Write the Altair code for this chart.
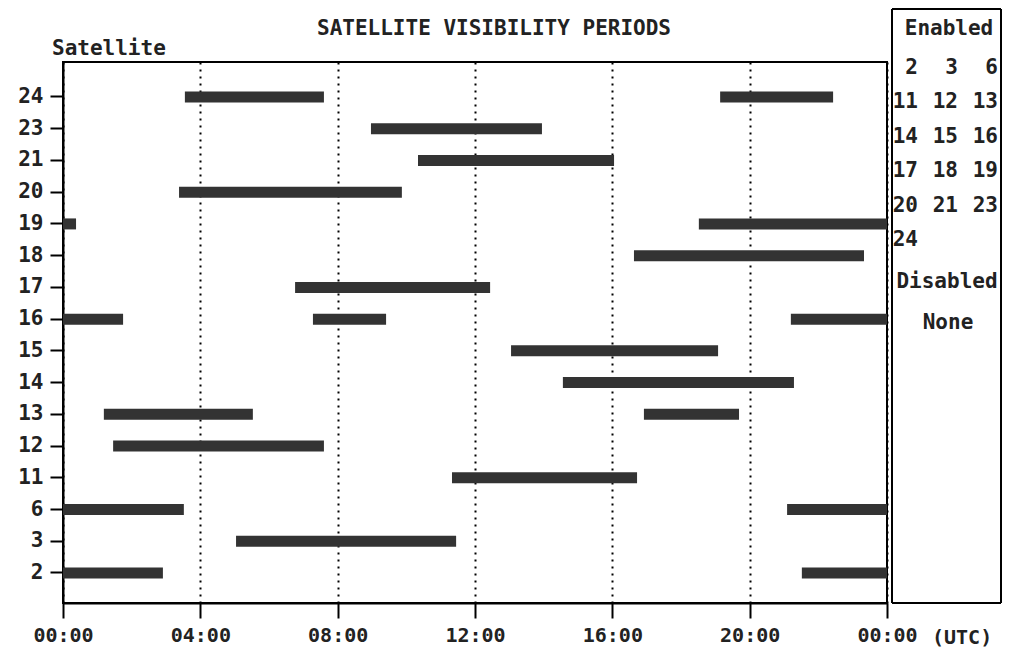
import altair as alt
import pandas as pd

# --- data ---
satellites = ["24", "23", "21", "20", "19", "18", "17", "16", "15", "14", "13", "12", "11", "6", "3", "2"]

bar_sat = ["24", "24", "23", "21", "20", "19", "19", "18", "17", "16", "16", "16",
           "15", "14", "13", "13", "12", "11", "6", "6", "3", "2", "2"]
bar_start = [3.55, 19.14, 8.97, 10.34, 3.38, 0.0, 18.52, 16.63, 6.76, 0.0, 7.28, 21.2,
             13.05, 14.56, 1.19, 16.92, 1.46, 11.33, 0.0, 21.09, 5.04, 0.0, 21.52]
bar_end = [7.60, 22.43, 13.95, 16.05, 9.87, 0.38, 24.0, 23.33, 12.44, 1.75, 9.41, 24.0,
           19.08, 21.29, 5.53, 19.69, 7.60, 16.72, 3.52, 24.0, 11.45, 2.91, 24.0]

hour_ticks = [0, 4, 8, 12, 16, 20, 24]

enabled = ["2", "3", "6", "11", "12", "13", "14", "15", "16", "17", "18", "19", "20", "21", "23", "24"]
disabled = ["None"]

title_text = "SATELLITE VISIBILITY PERIODS"
yaxis_text = "Satellite"

FONT = "DejaVu Sans Mono"
FS = 21
W, H = 824, 541

bars = pd.DataFrame({"sat": bar_sat, "start": bar_start, "end": bar_end})

base = alt.Chart(bars).mark_bar(height=11, color="#333333").encode(
    x=alt.X("start:Q",
            scale=alt.Scale(domain=[0, 24], nice=False, zero=False),
            axis=alt.Axis(values=hour_ticks, title=None,
                          labelExpr="(datum.value % 24 < 10 ? '0' : '') + (datum.value % 24) + ':00'",
                          grid=True, gridColor="black", gridDash=[2, 5], gridWidth=2,
                          gridOpacity=1,
                          domainColor="black", domainWidth=2,
                          tickColor="black", tickWidth=2, tickSize=15,
                          labelFont=FONT, labelFontSize=20, labelFontWeight="bold",
                          labelColor="#222", labelPadding=7, labelFlush=False,
                          labelOverlap=False)),
    x2="end:Q",
    y=alt.Y("sat:N", sort=satellites,
            scale=alt.Scale(paddingInner=0, paddingOuter=0.524, align=0.575),
            axis=alt.Axis(title=None, grid=False,
                          domainColor="black", domainWidth=2,
                          tickColor="black", tickWidth=2, tickSize=13,
                          labelFont=FONT, labelFontSize=FS, labelFontWeight="bold",
                          labelColor="#222", labelPadding=7)),
)

# title and y label
title_df = pd.DataFrame({"t": [title_text]})
title_mark = alt.Chart(title_df).mark_text(
    font=FONT, fontSize=21, fontWeight="bold", color="#222", align="center", baseline="middle"
).encode(text="t:N", x=alt.value(431), y=alt.value(-33))

ylab_df = pd.DataFrame({"t": [yaxis_text]})
ylab_mark = alt.Chart(ylab_df).mark_text(
    font=FONT, fontSize=FS, fontWeight="bold", color="#222", align="left", baseline="middle"
).encode(text="t:N", x=alt.value(-11), y=alt.value(-13))

utc_df = pd.DataFrame({"t": ["(UTC)"]})
utc_mark = alt.Chart(utc_df).mark_text(
    font=FONT, fontSize=20, fontWeight="bold", color="#222", align="left", baseline="middle"
).encode(text="t:N", x=alt.value(869), y=alt.value(576))

# legend box drawn as four rules
edges = pd.DataFrame({
    "x1": [829, 938, 829, 829], "x2": [829, 938, 938, 938],
    "y1": [-53, -53, -53, 541], "y2": [541, 541, -53, 541],
})
box = alt.Chart(edges).mark_rule(color="black", strokeWidth=2).encode(
    x=alt.X("x1:Q", scale=None), x2="x2:Q",
    y=alt.Y("y1:Q", scale=None), y2="y2:Q",
)

head_df = pd.DataFrame({"t": ["Enabled", "Disabled"] + disabled,
                        "px": [886, 884, 885], "py": [-33, 220, 261]})
heads = alt.Chart(head_df).mark_text(
    font=FONT, fontSize=FS, fontWeight="bold", color="#222", align="center", baseline="middle"
).encode(text="t:N", x=alt.X("px:Q", scale=None), y=alt.Y("py:Q", scale=None))

col_right = [855, 895, 935]
items = pd.DataFrame({
    "t": enabled,
    "px": [col_right[i % 3] for i in range(len(enabled))],
    "py": [6 + 34.4 * (i // 3) for i in range(len(enabled))],
})
item_mark = alt.Chart(items).mark_text(
    font=FONT, fontSize=FS, fontWeight="bold", color="#222", align="right", baseline="middle"
).encode(text="t:N", x=alt.X("px:Q", scale=None), y=alt.Y("py:Q", scale=None))

chart = alt.layer(base, title_mark, ylab_mark, utc_mark, box, heads, item_mark).properties(
    width=W, height=H,
    autosize=alt.AutoSizeParams(type="none"),
    padding={"left": 55, "top": 54, "right": 118, "bottom": 50},
    background="white",
).configure_view(stroke="black", strokeWidth=2)

chart.save("out.html", embed_options={"renderer": "svg", "actions": False})
